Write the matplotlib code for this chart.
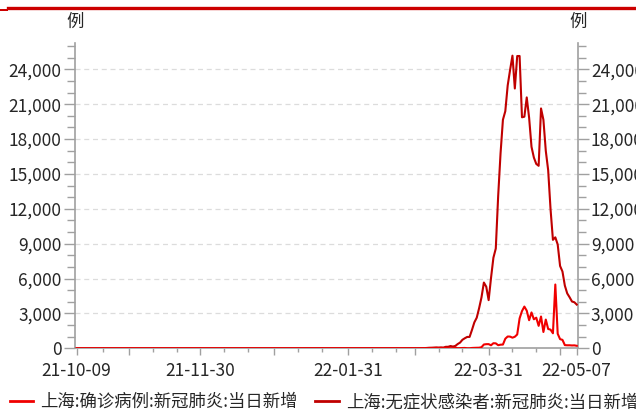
import matplotlib
matplotlib.use('Agg')
import matplotlib.pyplot as plt
import matplotlib.dates as mdates
from matplotlib.lines import Line2D
from matplotlib.patches import Rectangle
import numpy as np
import pandas as pd

plt.rcParams['font.family'] = ['Noto Sans CJK SC', 'DejaVu Sans']

# sparse points for the quiet period (values near zero)
early_dates = ['2021-10-09', '2021-11-24', '2021-11-25', '2021-11-27',
               '2022-01-12', '2022-01-13', '2022-01-16', '2022-02-19']
early_confirmed = [0, 0, 3, 0, 0, 1, 0, 0]
early_asym = [0, 0, 0, 0, 0, 2, 1, 2]

# daily values from 2022-02-20 to 2022-05-07
daily_start = '2022-02-20'
daily_confirmed = [
    0, 1, 0, 0, 0, 0, 1, 0, 0,
    1, 3, 2, 3, 0, 3, 4, 3, 4, 11, 5, 1, 41, 9, 5, 8, 57, 8, 17, 24,
    31, 4, 4, 29, 38, 45, 50, 96, 326, 355, 358,
    260, 438, 425, 268, 311, 322, 824, 1015, 1006, 914, 994, 1189, 2573,
    3200, 3590, 3238, 2417, 3084, 2494, 2634, 1931, 2736, 1401, 2472,
    1661, 1606, 1292, 5487, 1249, 788,
    727, 274, 260, 261, 245, 253, 215]
daily_asym = [
    1, 2, 1, 2, 3, 4, 6, 3, 2,
    1, 5, 14, 16, 28, 45, 51, 62, 76, 64, 78, 64, 128, 130, 197, 150,
    203, 366, 492, 734, 865, 977, 979, 1580, 2231, 2631, 3450, 4381,
    5656, 5298, 4144,
    6051, 7788, 8581, 13086, 16766, 19660, 20398, 22609, 23937, 25173,
    22348, 25141, 25146, 19872, 19923, 21582, 19831, 17332, 16407, 15861,
    15698, 20634, 19657, 16983, 15319, 11956, 9330, 9545, 8932, 7084,
    6606, 5395, 4722, 4390, 4024, 3961, 3760]

labels = ['上海:确诊病例:新冠肺炎:当日新增', '上海:无症状感染者:新冠肺炎:当日新增']
colors = ['#f00000', '#c00000']

x_labeled = ['2021-10-09', '2021-11-30', '2022-01-31', '2022-03-31', '2022-05-07']
x_long = ['2021-10-31', '2021-12-31', '2022-02-28', '2022-04-30']
x_short = ['2021-10-20', '2021-11-10', '2021-11-20', '2021-12-10', '2021-12-20',
           '2022-01-10', '2022-01-20', '2022-02-10', '2022-02-20', '2022-03-10',
           '2022-03-20', '2022-04-10', '2022-04-20']

dates = pd.to_datetime(early_dates).append(
    pd.date_range(daily_start, periods=len(daily_asym), freq='D'))
confirmed = early_confirmed + daily_confirmed
asym = early_asym + daily_asym

W, H = 636, 409
fig = plt.figure(figsize=(W / 100, H / 100), dpi=100)
ax = fig.add_axes([75 / W, (H - 348.3) / H, (577.7 - 75) / W, (348.3 - 43) / H])

ax.plot(dates, asym, color=colors[1], lw=1.5, zorder=3)
ax.plot(dates, confirmed, color=colors[0], lw=1.5, zorder=4)

x0 = mdates.date2num(pd.Timestamp('2021-10-09')) - 0.7
x1 = mdates.date2num(pd.Timestamp('2022-05-07')) + 0.4
ax.set_xlim(x0, x1)
ax.set_ylim(0, 26263)

major_pos = [mdates.date2num(pd.Timestamp(d)) for d in x_labeled + x_long]
major_lab = [d[2:] for d in x_labeled] + [''] * len(x_long)
ax.set_xticks(major_pos)
ax.set_xticklabels(major_lab)
ax.set_xticks([mdates.date2num(pd.Timestamp(d)) for d in x_short], minor=True)

ax.set_yticks(np.arange(0, 24001, 3000))
ax.set_yticks(np.arange(0, 26001, 1000), minor=True)
ax.yaxis.set_major_formatter(matplotlib.ticker.FuncFormatter(lambda v, p: f'{int(v):,}'))
ax.yaxis.set_ticks_position('both')

gray = '#a0a0a0'
ax.tick_params(axis='y', which='major', length=8, width=1, color=gray, pad=1.5,
               labelsize=12.5, labelcolor='#262626', labelleft=True, labelright=True)
ax.tick_params(axis='y', which='minor', length=5.5, width=1, color=gray)
ax.tick_params(axis='x', which='major', length=5, width=1, color=gray, pad=5,
               labelsize=12.5, labelcolor='#262626')
ax.tick_params(axis='x', which='minor', length=3, width=1, color=gray)

for s in ['top']:
    ax.spines[s].set_visible(False)
for s in ['left', 'right', 'bottom']:
    ax.spines[s].set_color(gray)
    ax.spines[s].set_linewidth(1.2)

for v in np.arange(3000, 24001, 3000):
    ax.axhline(v, color='#dcdcdc', lw=0.9, ls=(0, (4, 3)), zorder=1)

fig.text(75 / W, 1 - 22 / H, '例', ha='center', va='center', fontsize=12.5, color='#262626')
fig.text(578 / W, 1 - 22 / H, '例', ha='center', va='center', fontsize=12.5, color='#262626')

# header bar
fig.add_artist(Line2D([8 / W, 1], [1 - 7.5 / H, 1 - 7.5 / H], color='#cc0000', lw=2.4))
fig.add_artist(Rectangle((0, 1 - 11 / H), 8 / W, 2.5 / H, color='#cc0000', lw=0))

handles = [Line2D([], [], color=c, lw=2) for c in colors]
fig.legend(handles, labels, loc='center left', bbox_to_anchor=(10 / W, 1 - 402 / H),
           ncol=2, frameon=False, fontsize=12.5, handlelength=1.35,
           handletextpad=0.4, columnspacing=1.0, borderpad=0, borderaxespad=0,
           labelcolor='#262626')

fig.savefig('out.png', dpi=100)
